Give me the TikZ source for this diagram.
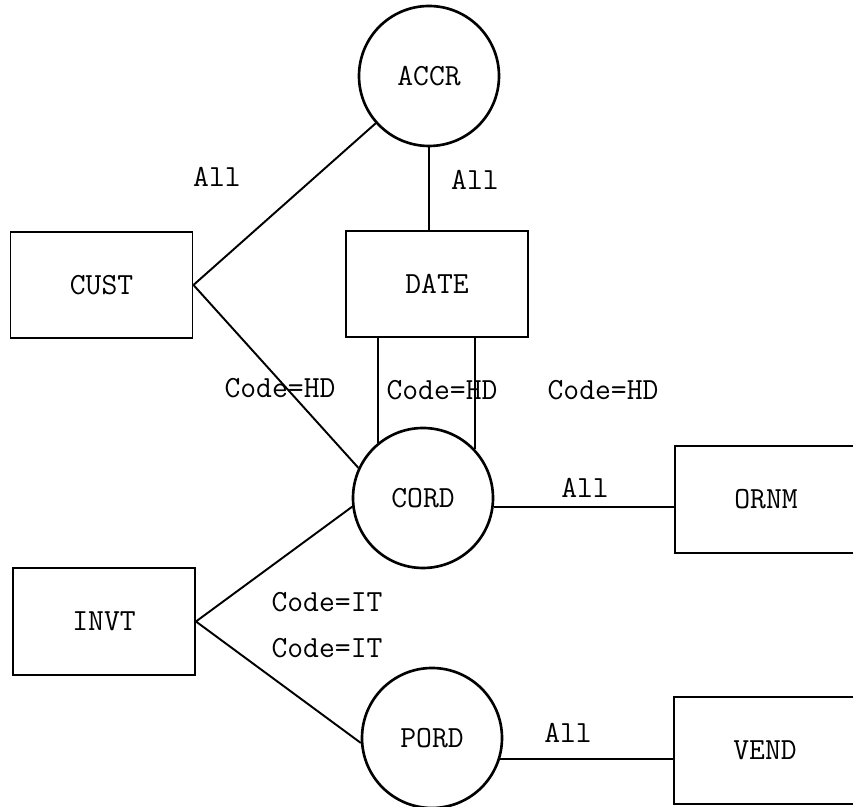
\documentclass[tikz,border=0pt]{standalone}
\begin{document}
\begin{tikzpicture}[
    every node/.style={font=\ttfamily\fontsize{17.5}{21}\selectfont},
    entidade/.style={draw, rectangle, line width=1.1pt, minimum width=3.64cm, minimum height=2.13cm, inner sep=0pt},
    relacao/.style={draw, circle, line width=1.5pt, minimum size=2.8cm, inner sep=0pt},
    rotulo/.style={inner sep=0pt},
    liga/.style={line width=1.1pt}]

  % Moldura
  \useasboundingbox (0,0) rectangle (17.06,16.14);

  % Relacoes (circulos)
  \node[relacao] (accr) at (8.58,14.62) {ACCR};
  \node[relacao] (cord) at (8.46,6.18)  {CORD};
  \node[relacao] (pord) at (8.64,1.38)  {PORD};

  % Entidades (caixas)
  \node[entidade] (cust) at (2.03,10.44)  {CUST};
  \node[entidade] (date) at (8.74,10.46)  {DATE};
  \node[entidade] (ornm) at (15.32,6.15)  {ORNM};
  \node[entidade] (invt) at (2.08,3.71)   {INVT};
  \node[entidade] (vend) at (15.30,1.13)  {VEND};

  % Ligacoes
  \draw[liga] (cust.east) -- (accr);
  \draw[liga] (cust.east) -- (cord.155);
  \draw[liga] (accr.south) -- (accr.south |- date.north);
  \draw[liga] (cord.129) -- (cord.129 |- date.south);
  \draw[liga] (cord.43)  -- (cord.43 |- date.south);
  \draw[liga] (cord.-7)  -- (cord.-7 -| ornm.west);
  \draw[liga] (invt.east) -- (cord.187);
  \draw[liga] (invt.east) -- (pord.184);
  \draw[liga] (pord.-17) -- (pord.-17 -| vend.west);

  % Rotulos das ligacoes
  \node[rotulo] (all1) at (4.34,12.60) {All};
  \node[rotulo] (all2) at (9.50,12.54) {All};
  \node[rotulo] (hd1)  at (5.60,8.38)  {Code=HD};
  \node[rotulo] (hd2)  at (8.84,8.34)  {Code=HD};
  \node[rotulo] (hd3)  at (12.06,8.34) {Code=HD};
  \node[rotulo] (all3) at (11.70,6.38) {All};
  \node[rotulo] (it1)  at (6.54,4.10)  {Code=IT};
  \node[rotulo] (it2)  at (6.54,3.18)  {Code=IT};
  \node[rotulo] (all4) at (11.36,1.48) {All};

\end{tikzpicture}
\end{document}
